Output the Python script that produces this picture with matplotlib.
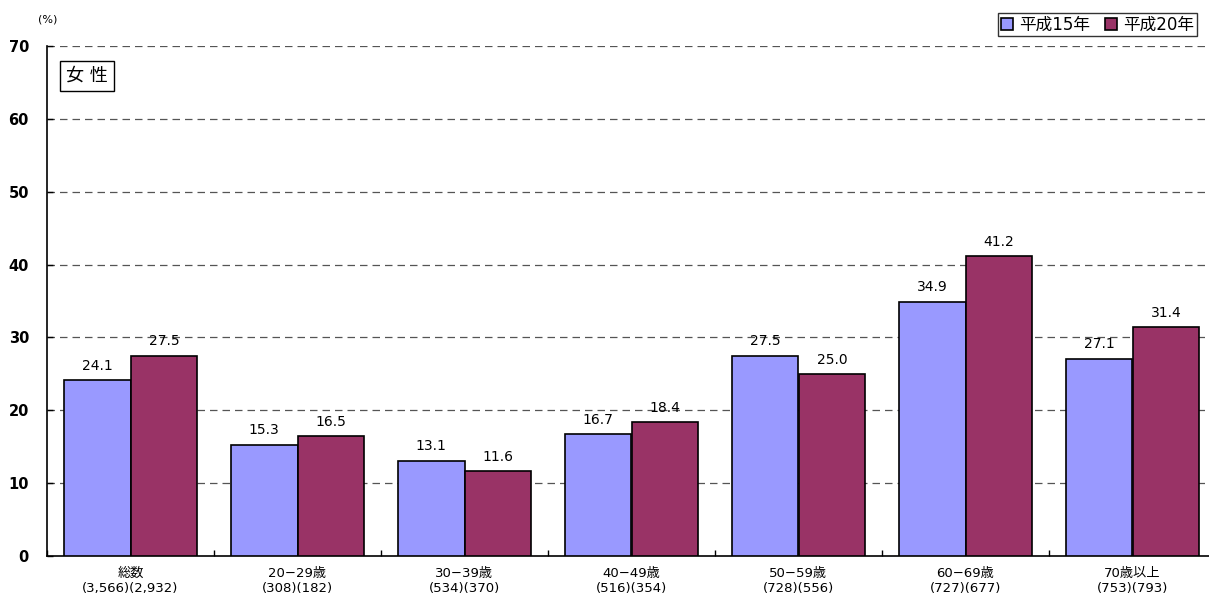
import matplotlib
matplotlib.use("Agg")
import matplotlib.pyplot as plt
import numpy as np

plt.rcParams['font.family'] = ['DejaVu Sans', 'Noto Sans CJK JP']

categories = ["総数", "20−29歳", "30−39歳", "40−49歳", "50−59歳", "60−69歳", "70歳以上"]
counts = ["(3,566)(2,932)", "(308)(182)", "(534)(370)", "(516)(354)",
          "(728)(556)", "(727)(677)", "(753)(793)"]
h15 = [24.1, 15.3, 13.1, 16.7, 27.5, 34.9, 27.1]
h20 = [27.5, 16.5, 11.6, 18.4, 25.0, 41.2, 31.4]
series_names = ["平成15年", "平成20年"]

W, H = 1209, 595
fig = plt.figure(figsize=(W / 100, H / 100), dpi=100)
ax = fig.add_axes([47 / W, 1 - 556 / H, (1216 - 47) / W, (556 - 46) / H])

x = np.arange(len(categories))
bw = 0.4
b1 = ax.bar(x - bw / 2, h15, bw, color="#9999FF", edgecolor="black", linewidth=1.2,
            label=series_names[0], zorder=3)
b2 = ax.bar(x + bw / 2, h20, bw, color="#993366", edgecolor="black", linewidth=1.2,
            label=series_names[1], zorder=3)

for bars, vals in [(b1, h15), (b2, h20)]:
    for r, v in zip(bars, vals):
        ax.text(r.get_x() + r.get_width() / 2, v + 1.0, f"{v:.1f}",
                ha="center", va="bottom", fontsize=10, zorder=4)

ax.set_xlim(-0.5, len(categories) - 0.5)
ax.set_ylim(0, 70)
ax.set_yticks(range(0, 71, 10))
ax.set_yticklabels([str(v) for v in range(0, 71, 10)], fontsize=10.5, fontweight="bold")
for yv in range(10, 71, 10):
    ax.axhline(yv, color="#555555", linestyle=(0, (6, 4)), linewidth=0.9, zorder=1)

ax.set_xticks(np.arange(len(categories) + 1) - 0.5, minor=True)
ax.tick_params(axis="x", which="minor", direction="in", length=4, width=1)
ax.set_xticks(x)
ax.set_xticklabels([f"{c}\n{n}" for c, n in zip(categories, counts)], fontsize=9.5,
                   linespacing=1.15)
ax.tick_params(axis="x", which="major", length=0, pad=8)
ax.tick_params(axis="y", direction="in", length=4, width=1, pad=13)

for s in ["top", "right"]:
    ax.spines[s].set_visible(False)
ax.spines["left"].set_linewidth(1.2)
ax.spines["bottom"].set_linewidth(1.2)

fig.text(38 / W, 1 - 19 / H, "(%)", fontsize=8, ha="left", va="center")
ax.text(66 / W, 1 - 76 / H, "女 性", transform=fig.transFigure, fontsize=13,
        ha="left", va="center",
        bbox=dict(boxstyle="square,pad=0.35", facecolor="white", edgecolor="black",
                  linewidth=1.0))

leg = fig.legend(handles=[b1, b2], loc="upper right", bbox_to_anchor=(1197 / W, 1 - 13 / H),
                 ncol=2, fontsize=12, frameon=True, fancybox=False, edgecolor="black",
                 handlelength=0.7, handleheight=0.7, handletextpad=0.4, columnspacing=0.9,
                 borderpad=0.15, borderaxespad=0)
leg.get_frame().set_linewidth(1.0)

fig.savefig("out.png", dpi=100)
